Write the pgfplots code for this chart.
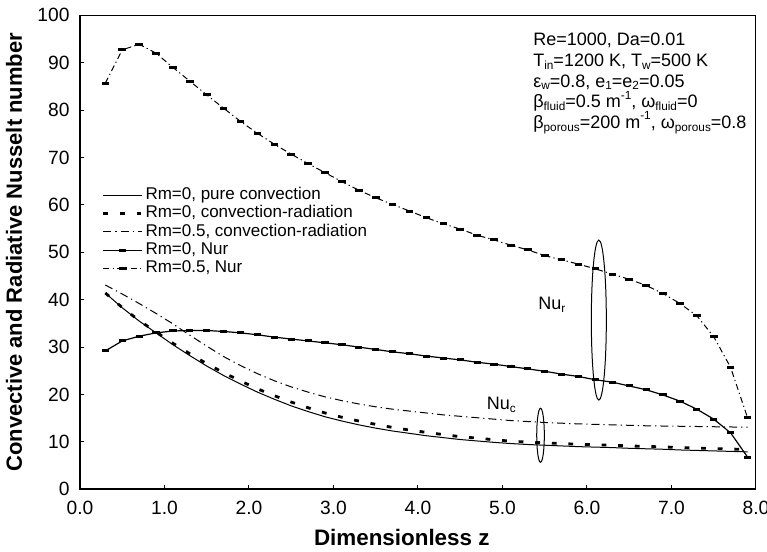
\documentclass[border=0pt]{standalone}
\usepackage{fontspec}
\setmainfont{Liberation Sans}
\usepackage{pgfplots}
\usepackage{pgfplotstable}
\pgfplotsset{compat=1.18}

\newcommand\sub[1]{\raisebox{-0.3ex}{\fontsize{5.9}{6}\selectfont #1}}
\newcommand\sups[1]{\raisebox{0.9ex}{\fontsize{5.9}{6}\selectfont #1}}

% z, pure convection, Rm=0 conv-rad, Rm=0.5 conv-rad, Rm=0 Nur, Rm=0.5 Nur
\pgfplotstableread{
z   pc    cr    crb   nura  nurb
0.3 41.4  41.4  43.1  29.2  85.7
0.5 38.3  38.35 41.2  31.3  92.7
0.7 35.5  35.6  39.2  32.3  93.9
0.9 33.0  33.2  37.1  33.0  92.0
1.1 30.5  30.8  34.9  33.4  89.0
1.3 28.2  28.6  32.5  33.5  86.1
1.5 26.0  26.5  30.2  33.5  83.2
1.7 24.0  24.6  28.0  33.3  80.4
1.9 22.2  22.85 26.1  33.0  77.6
2.1 20.5  21.2  24.4  32.6  75.1
2.3 19.0  19.75 22.9  32.1  72.8
2.5 17.6  18.4  21.6  31.7  70.7
2.7 16.4  17.2  20.5  31.3  68.7
2.9 15.3  16.1  19.5  30.9  66.8
3.1 14.4  15.2  18.7  30.5  64.9
3.3 13.6  14.4  18.0  30.0  63.1
3.5 12.9  13.7  17.4  29.5  61.5
3.7 12.3  13.05 16.9  29.0  60.1
3.9 11.8  12.5  16.5  28.6  58.7
4.1 11.3  12.0  16.1  28.1  57.3
4.3 10.9  11.55 15.7  27.7  56.0
4.5 10.5  11.1  15.4  27.3  54.9
4.7 10.2  10.8  15.1  26.8  53.6
4.9 9.9   10.45 14.8  26.4  52.6
5.1 9.65  10.15 14.5  25.9  51.5
5.3 9.45  9.95  14.3  25.4  50.5
5.5 9.3   9.8   14.1  24.9  49.3
5.7 9.15  9.65  13.95 24.3  48.4
5.9 9.0   9.5   13.8  23.8  47.5
6.1 8.9   9.4   13.7  23.1  46.5
6.3 8.8   9.3   13.6  22.6  45.4
6.5 8.65  9.15  13.5  21.8  44.3
6.7 8.55  9.05  13.4  21.0  43.0
6.9 8.45  8.95  13.35 19.9  41.3
7.1 8.3   8.8   13.3  18.6  39.2
7.3 8.2   8.7   13.25 16.9  36.6
7.5 8.1   8.6   13.2  14.8  32.2
7.7 8.0   8.5   13.15 11.9  25.7
7.9 7.9   8.4   13.1  6.8   15.1
}\datatable

\begin{document}
\begin{tikzpicture}
\begin{axis}[
    scale only axis,
    width=338pt, height=237pt,
    xmin=0, xmax=8, ymin=0, ymax=100,
    xtick={0,1,...,8}, ytick={0,10,...,100},
    tick pos=left, tick align=inside, major tick length=2pt,
    tick style={black, line width=0.5pt},
    axis line style={line width=0.5pt},
    clip=false,
    /pgf/number format/assume math mode=true,
    ticklabel style={font=\fontsize{9.6}{12}\selectfont},
    xticklabel style={/pgf/number format/.cd, fixed, fixed zerofill, precision=1, /tikz/.cd, yshift=-2.2pt},
    yticklabel style={xshift=-1.7pt},
    xlabel={Dimensionless z},
    ylabel={Convective and Radiative Nusselt number},
    xlabel style={font=\bfseries\fontsize{11.2}{13}\selectfont, at={(rel axis cs:0.476,-0.1006)}, anchor=center},
    ylabel style={font=\bfseries\fontsize{11}{13}\selectfont, at={(rel axis cs:-0.0976,0.5)}, anchor=center},
    legend style={at={(0.032,0.641)}, anchor=north west, draw=none, fill=none, inner sep=0pt,
        font=\fontsize{8.5}{9}\selectfont, column sep=0.4pt, row sep=0pt,
        nodes={inner sep=0.6pt, text height=6.1pt, text depth=1.9pt}},
    legend cell align=left,
    legend image code/.code={\draw[mark repeat=2, mark phase=2, #1] plot coordinates {(0cm,0cm) (0.34cm,0cm) (0.68cm,0cm)};},
]
\addplot[black, line width=0.5pt] table[x=z, y=pc] {\datatable};
\addplot[black, line width=1.4pt, dash pattern=on 2.4pt off 5.9pt] table[x=z, y=cr] {\datatable};
\addplot[black, line width=0.5pt, dash pattern=on 4pt off 2pt on 0.6pt off 2pt] table[x=z, y=crb] {\datatable};
\addplot[black, line width=0.6pt, mark=-, mark size=1.8pt, mark options={solid, line width=1.5pt}] table[x=z, y=nura] {\datatable};
\addplot[black, line width=0.5pt, dash pattern=on 3pt off 1.6pt on 0.6pt off 1.6pt, mark=-, mark size=1.9pt, mark options={solid, line width=1.5pt}] table[x=z, y=nurb] {\datatable};
\legend{{Rm=0, pure convection}, {Rm=0, convection-radiation}, {Rm=0.5, convection-radiation}, {Rm=0, Nur}, {Rm=0.5, Nur}}

% thicker left and bottom axis lines
\draw[line width=1pt] (rel axis cs:0,1) -- (rel axis cs:0,0) -- (rel axis cs:1,0);

\draw[line width=0.5pt] (axis cs:6.14,35.7) ellipse [x radius=3.75pt, y radius=40pt];
\draw[line width=0.5pt] (axis cs:5.45,11.4) ellipse [x radius=1.9pt, y radius=13.5pt];
\node[anchor=base west, inner sep=0pt, font=\fontsize{9}{10}\selectfont] at (axis cs:5.42,38.0) {Nu\sub{r}};
\node[anchor=base west, inner sep=0pt, font=\fontsize{9}{10}\selectfont] at (axis cs:4.81,16.9) {Nu\sub{c}};

\node[anchor=north west, inner sep=0pt, align=left, font=\fontsize{9}{10.3}\selectfont] at (rel axis cs:0.670,0.963)
  {Re=1000, Da=0.01\\
   T\sub{in}=1200 K, T\sub{w}=500 K\\
   ε\sub{w}=0.8, e\sub{1}=e\sub{2}=0.05\\
   β\sub{fluid}=0.5 m\sups{-1}, ω\sub{fluid}=0\\
   β\sub{porous}=200 m\sups{-1}, ω\sub{porous}=0.8};

\coordinate (ll) at (rel axis cs:0,0);
\coordinate (ur) at (rel axis cs:1,1);
\end{axis}
\pgfresetboundingbox
\path ([shift={(-40pt,-30.85pt)}]ll) rectangle ([shift={(5.5pt,7.65pt)}]ur);
\end{tikzpicture}
\end{document}
